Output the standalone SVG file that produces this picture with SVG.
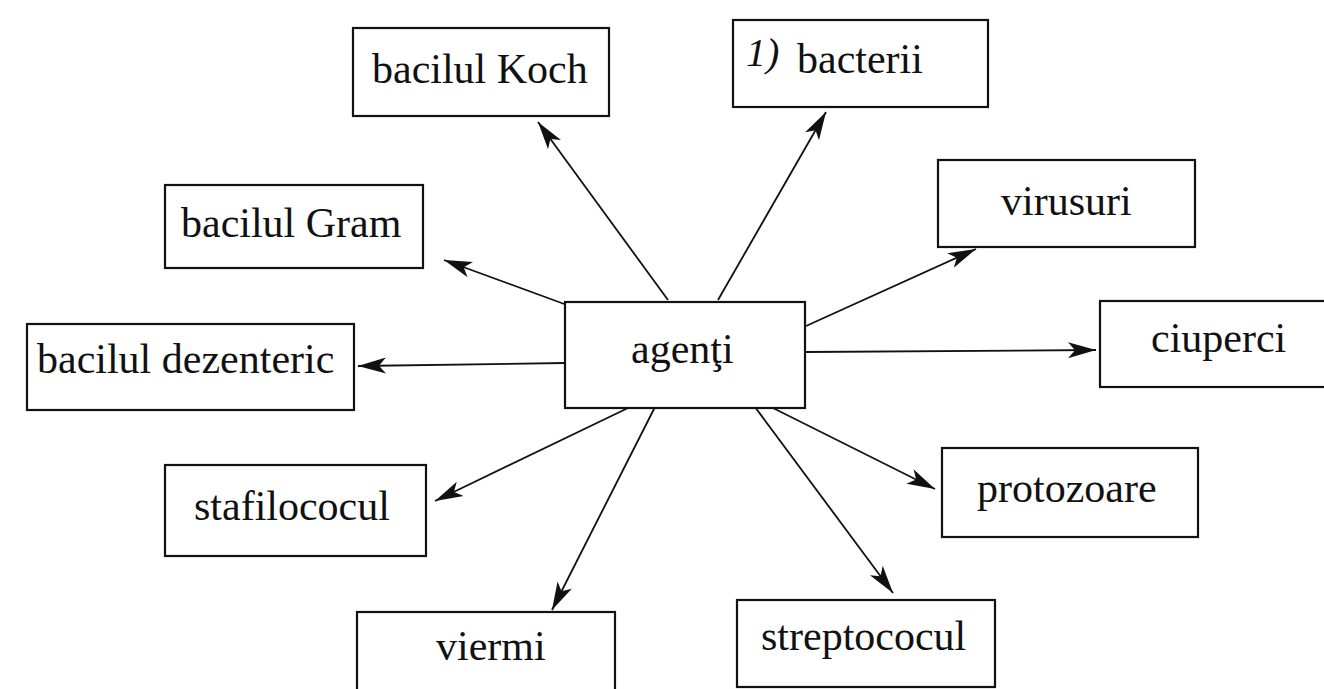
<svg xmlns="http://www.w3.org/2000/svg" width="1324" height="689" viewBox="0 0 1324 689">
<style>
.box{fill:#fff;stroke:#111;stroke-width:2.2}
.lbl{font-family:"Liberation Serif","Times New Roman",serif;font-size:42px;fill:#111}
.hand{font-family:"Liberation Serif","Times New Roman",serif;font-size:40px;font-style:italic;fill:#111}
.conn{stroke:#111;stroke-width:1.8;fill:none;marker-end:url(#ah)}
</style>
<defs>
<marker id="ah" markerUnits="userSpaceOnUse" markerWidth="30" markerHeight="20" refX="28" refY="10" orient="auto">
<path d="M0,2 L28,10 L0,18 L7,10 Z" fill="#111"/>
</marker>
</defs>
<rect width="1324" height="689" fill="#fff"/>
<g id="connectors">
<line class="conn" x1="668" y1="300" x2="538" y2="122"/>
<line class="conn" x1="718" y1="300" x2="826" y2="112"/>
<line class="conn" x1="567" y1="305" x2="444" y2="260"/>
<line class="conn" x1="565" y1="363" x2="358" y2="366"/>
<line class="conn" x1="806" y1="326" x2="976" y2="249"/>
<line class="conn" x1="806" y1="352" x2="1096" y2="350"/>
<line class="conn" x1="628" y1="408" x2="435" y2="501"/>
<line class="conn" x1="655" y1="407" x2="552" y2="610"/>
<line class="conn" x1="755" y1="407" x2="893" y2="593"/>
<line class="conn" x1="767" y1="405" x2="935" y2="489"/>
</g>
<g id="agenti">
<rect class="box" x="565" y="302" width="240" height="106"/>
<text class="lbl" x="631" y="363">agenţi</text>
</g>
<g id="bacilul-koch">
<rect class="box" x="353" y="28" width="256" height="88"/>
<text class="lbl" x="372" y="83">bacilul Koch</text>
</g>
<g id="bacterii">
<rect class="box" x="733" y="20" width="255" height="87"/>
<text class="hand" x="746" y="66">1)</text>
<text class="lbl" x="797" y="73">bacterii</text>
</g>
<g id="bacilul-gram">
<rect class="box" x="165" y="185" width="258" height="83"/>
<text class="lbl" x="181" y="237">bacilul Gram</text>
</g>
<g id="bacilul-dezenteric">
<rect class="box" x="27" y="324" width="327" height="86"/>
<text class="lbl" x="37" y="373">bacilul dezenteric</text>
</g>
<g id="virusuri">
<rect class="box" x="938" y="160" width="257" height="87"/>
<text class="lbl" x="1001" y="215">virusuri</text>
</g>
<g id="ciuperci">
<rect class="box" x="1100" y="301" width="240" height="86"/>
<text class="lbl" x="1151" y="352">ciuperci</text>
</g>
<g id="stafilococul">
<rect class="box" x="165" y="465" width="261" height="91"/>
<text class="lbl" x="194" y="520">stafilococul</text>
</g>
<g id="viermi">
<rect class="box" x="357" y="612" width="258" height="100"/>
<text class="lbl" x="436" y="660">viermi</text>
</g>
<g id="protozoare">
<rect class="box" x="942" y="448" width="256" height="89"/>
<text class="lbl" x="977" y="502">protozoare</text>
</g>
<g id="streptococul">
<rect class="box" x="737" y="600" width="258" height="87"/>
<text class="lbl" x="761" y="650">streptococul</text>
</g>
</svg>
